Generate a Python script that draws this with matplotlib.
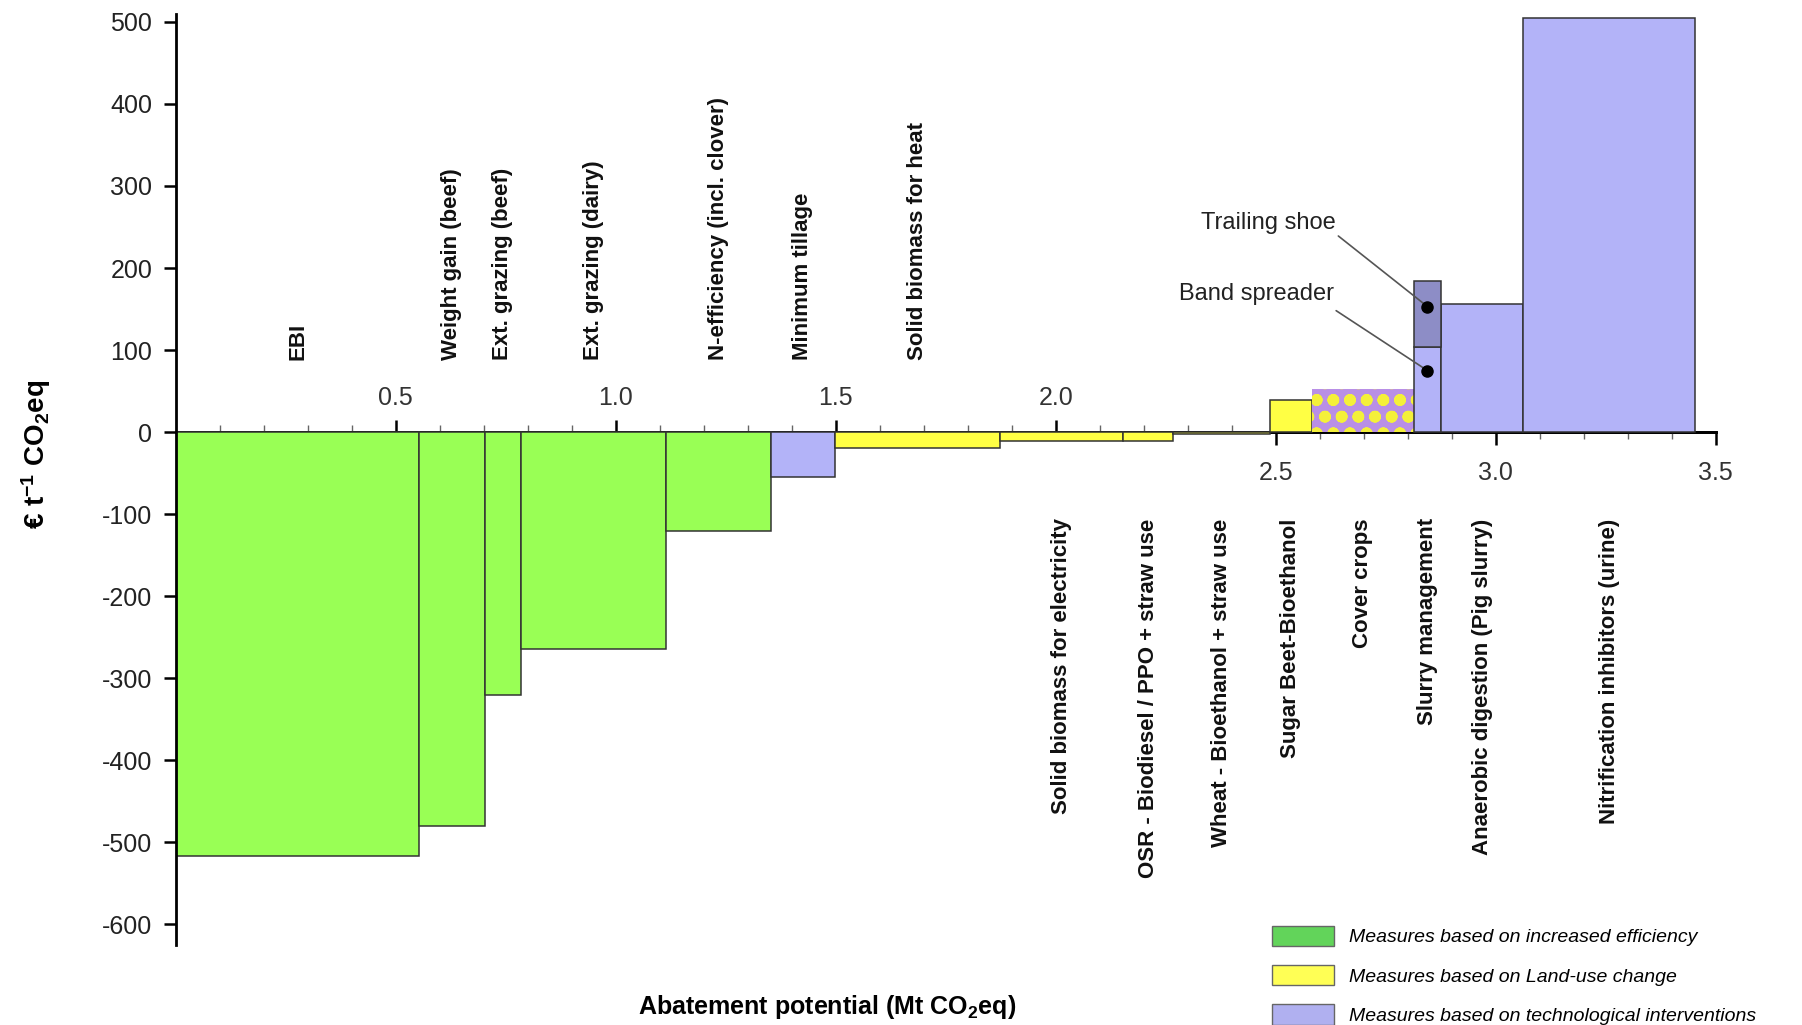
import numpy as np
import matplotlib.pyplot as plt
from matplotlib.patches import Patch

plt.rcParams['font.family'] = ['Liberation Sans', 'DejaVu Sans']
plt.rcParams['mathtext.default'] = 'regular'
plt.rcParams['axes.unicode_minus'] = False
plt.rcParams['hatch.linewidth'] = 3.8

# marginal abatement cost curve, bars left to right
measures = ['EBI', 'Weight gain (beef)', 'Ext. grazing (beef)', 'Ext. grazing (dairy)',
            'N-efficiency (incl. clover)', 'Minimum tillage', 'Solid biomass for heat',
            'Solid biomass for electricity', 'OSR - Biodiesel / PPO + straw use',
            'Wheat - Bioethanol + straw use', 'Sugar Beet-Bioethanol', 'Cover crops',
            'Slurry management', 'Anaerobic digestion (Pig slurry)',
            'Nitrification inhibitors (urine)']
potential = [0.553, 0.149, 0.082, 0.331, 0.237, 0.146, 0.375, 0.280, 0.113,
             0.221, 0.094, 0.233, 0.061, 0.187, 0.391]   # Mt CO2eq
cost = [-517, -480, -321, -264, -121, -55, -19, -11, -11,
        -2, 39, 53, 104, 156, 505]                      # EUR / t CO2eq
group = ['eff', 'eff', 'eff', 'eff', 'eff', 'tech', 'land', 'land', 'land',
         'land', 'land', 'mixed', 'tech', 'tech', 'tech']
label_side = ['up'] * 7 + ['down'] * 8

# slurry management options
trailing_shoe_cost = 184
band_spreader_pt = 75
trailing_shoe_pt = 153

colors = {'eff': '#99ff55', 'land': '#ffff44', 'tech': '#b3b3f8'}
legend_colors = ['#62d45a', '#ffff55', '#b0b0f0']
legend_labels = ['Measures based on increased efficiency',
                 'Measures based on Land-use change',
                 'Measures based on technological interventions']

fig = plt.figure(figsize=(18.02, 10.25), dpi=100)
ax = fig.add_axes([0.0976, 0.0661, 0.8546, 0.9246])
ax.set_xlim(0, 3.5)
ax.set_ylim(-640, 515)

lefts = np.concatenate([[0], np.cumsum(potential)[:-1]])
centers = lefts + np.array(potential) / 2

for i in range(len(measures)):
    if group[i] == 'mixed':
        ax.bar(lefts[i], cost[i], width=potential[i], align='edge',
               color='#b98fe6', edgecolor='#f4f03a', hatch='o', linewidth=0)
    else:
        ax.bar(lefts[i], cost[i], width=potential[i], align='edge',
               color=colors[group[i]], edgecolor='#333333', linewidth=1.1)

# trailing shoe sits on top of the band spreader part
islurry = measures.index('Slurry management')
ax.bar(lefts[islurry], trailing_shoe_cost - cost[islurry], bottom=cost[islurry],
       width=potential[islurry], align='edge', color='#8d8dc6',
       edgecolor='#333333', linewidth=1.1)
ax.plot([centers[islurry]] * 2, [band_spreader_pt, trailing_shoe_pt], 'o',
        color='black', ms=8, zorder=5)

ax.annotate('', xy=(centers[islurry], trailing_shoe_pt), xytext=(2.642, 239),
            arrowprops=dict(arrowstyle='-', color='#555555', lw=1.2,
                            shrinkA=0, shrinkB=0))
ax.annotate('', xy=(centers[islurry], band_spreader_pt), xytext=(2.637, 148),
            arrowprops=dict(arrowstyle='-', color='#555555', lw=1.2,
                            shrinkA=0, shrinkB=0))
ax.text(2.637, 255, 'Trailing shoe', ha='right', va='center', fontsize=17, color='#222222')
ax.text(2.633, 168, 'Band spreader', ha='right', va='center', fontsize=17, color='#222222')

# measure names
for i, name in enumerate(measures):
    if label_side[i] == 'up':
        ax.text(centers[i], 88, name, rotation=90, ha='center', va='bottom',
                fontsize=16, fontweight='bold', color='#111111')
    else:
        ax.text(centers[i], -105, name, rotation=90, ha='center', va='top',
                fontsize=16, fontweight='bold', color='#111111')

# axes styling
for side in ['top', 'right', 'bottom']:
    ax.spines[side].set_visible(False)
ax.spines['left'].set_linewidth(2)
ax.spines['left'].set_bounds(-625, 510)
ax.set_xticks([])
ax.set_yticks(np.arange(-600, 501, 100))
ax.tick_params(axis='y', direction='out', length=9, width=1.8, labelsize=18,
               labelcolor='#222222', pad=8)
ax.set_ylabel('€ t$^{-1}$ CO$_2$eq', fontsize=20, fontweight='bold')
ax.yaxis.set_label_coords(-0.08, 0.531)

# x axis along zero: labels above up to 2.0, below from 2.5
upper = ax.secondary_xaxis(0, transform=ax.transData)
upper.set_alignment('top')
upper.set_xticks([0.5, 1.0, 1.5, 2.0], ['0.5', '1.0', '1.5', '2.0'])
upper.set_xticks([0.1, 0.2, 0.3, 0.4, 0.6, 0.7, 0.8, 0.9, 1.1, 1.2, 1.3, 1.4,
                  1.6, 1.7, 1.8, 1.9, 2.1, 2.2, 2.3, 2.4], minor=True)
upper.tick_params(which='major', length=9, width=1.8, labelsize=18,
                  labelcolor='#333333', pad=7)
upper.tick_params(which='minor', length=5, width=1, color='#666666')
upper.spines['top'].set_linewidth(2)

lower = ax.secondary_xaxis(0, transform=ax.transData)
lower.set_alignment('bottom')
lower.set_xticks([2.5, 3.0, 3.5], ['2.5', '3.0', '3.5'])
lower.set_xticks([2.6, 2.7, 2.8, 2.9, 3.1, 3.2, 3.3, 3.4], minor=True)
lower.tick_params(which='major', length=9, width=1.8, labelsize=18,
                  labelcolor='#333333', pad=12)
lower.tick_params(which='minor', length=5, width=1, color='#666666')
lower.spines['bottom'].set_linewidth(2)

fig.text(0.459, 0.018, 'Abatement potential (Mt CO$_2$eq)', ha='center', va='center',
         fontsize=18, fontweight='bold')

handles = [Patch(facecolor=c, edgecolor='#666666', linewidth=1) for c in legend_colors]
fig.legend(handles, legend_labels, loc='upper left', bbox_to_anchor=(0.7004, 0.1065),
           frameon=False, borderpad=0, handlelength=3.2,
           handleheight=1.25, handletextpad=0.75, labelspacing=0.95,
           prop={'style': 'italic', 'size': 14})

fig.savefig('out.png', dpi=100)
